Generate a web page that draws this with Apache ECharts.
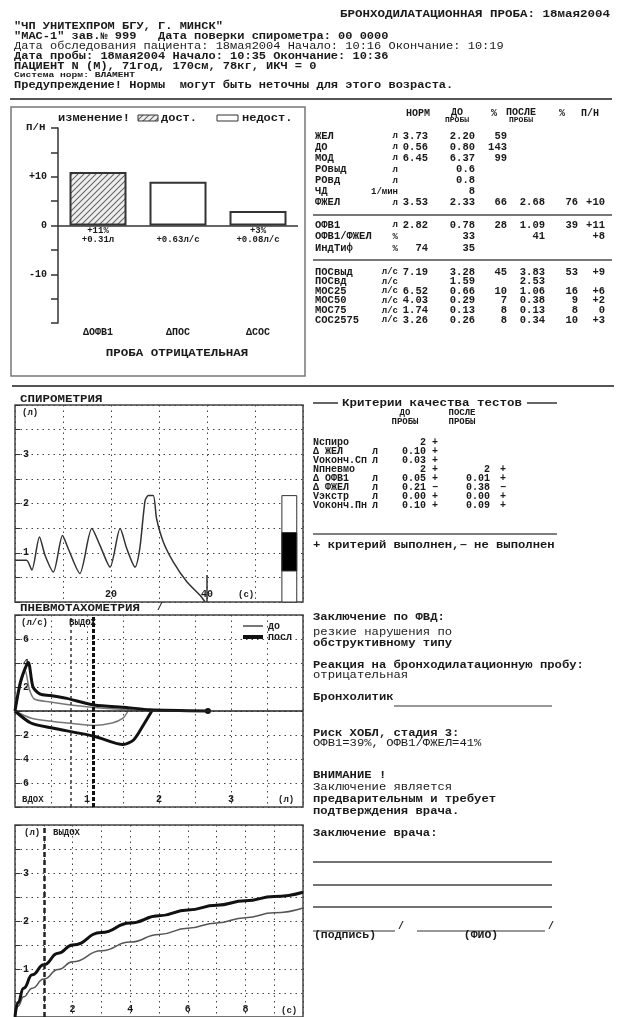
<!DOCTYPE html>
<html><head><meta charset="utf-8">
<script src="https://cdn.jsdelivr.net/npm/echarts@6/dist/echarts.min.js"></script>
<style>html,body{margin:0;padding:0;background:#fff}#c{width:617px;height:1017px}</style>
</head><body><div id="c"></div>
<script>
// ---------------- DATA ----------------
const headerTitle = 'БРОНХОДИЛАТАЦИОННАЯ ПРОБА: 18мая2004';
const headerLines = [
  '"ЧП УНИТЕХПРОМ БГУ, Г. МИНСК"',
  '"МАС-1" зав.№ 999   Дата поверки спирометра: 00 0000',
  'Дата обследования пациента: 18мая2004 Начало: 10:16 Окончание: 10:19',
  'Дата пробы: 18мая2004 Начало: 10:35 Окончание: 10:36',
  'ПАЦИЕНТ N (М), 71год, 170см, 78кг, ИКЧ = 0',
  'Система норм: ВЛАМЕНТ',
  'Предупреждение! Нормы  могут быть неточны для этого возраста.'
];

const barCategories = ['ΔОФВ1', 'ΔПОС', 'ΔСОС'];
const barValues = [11, 9, 3];
const barPercentLabels = ['+11%', ' ', '+3%'];
const barAbsLabels = ['+0.31л', '+0.63л/с', '+0.08л/с'];
const barTickLabels = { '10': '+10', '0': '0', '-10': '-10' };
const barResult = 'ПРОБА ОТРИЦАТЕЛЬНАЯ';

const tableBlock1 = [
  ['ЖЕЛ', 'л', '3.73', '2.20', '59', '', '', ''],
  ['ДО', 'л', '0.56', '0.80', '143', '', '', ''],
  ['МОД', 'л', '6.45', '6.37', '99', '', '', ''],
  ['РОвыд', 'л', '', '0.6', '', '', '', ''],
  ['РОвд', 'л', '', '0.8', '', '', '', ''],
  ['ЧД', '1/мин', '', '8', '', '', '', ''],
  ['ФЖЕЛ', 'л', '3.53', '2.33', '66', '2.68', '76', '+10']
];
const tableBlock2 = [
  ['ОФВ1', 'л', '2.82', '0.78', '28', '1.09', '39', '+11'],
  ['ОФВ1/ФЖЕЛ', '%', '', '33', '', '41', '', '+8'],
  ['ИндТиф', '%', '74', '35', '', '', '', '']
];
const tableBlock3 = [
  ['ПОСвыд', 'л/с', '7.19', '3.28', '45', '3.83', '53', '+9'],
  ['ПОСвд', 'л/с', '', '1.59', '', '2.53', '', ''],
  ['МОС25', 'л/с', '6.52', '0.66', '10', '1.06', '16', '+6'],
  ['МОС50', 'л/с', '4.03', '0.29', '7', '0.38', '9', '+2'],
  ['МОС75', 'л/с', '1.74', '0.13', '8', '0.13', '8', '0'],
  ['СОС2575', 'л/с', '3.26', '0.26', '8', '0.34', '10', '+3']
];

const spiroTime =   [0, 2.4, 3.5, 5.1, 6.25, 8.0, 9.9, 11.1, 13.5, 16.0, 17.7, 19.8, 21.9, 23.3, 25.0, 26.0, 27.1, 27.8, 28.8, 29.5, 30.9, 33.0, 35.8, 38.5, 39.6];
const spiroVolume = [0.85, 0.85, 0.65, 1.32, 0.95, 0.61, 1.35, 1.08, 0.58, 1.49, 1.15, 0.71, 1.49, 1.08, 0.71, 1.09, 2.06, 2.16, 2.16, 1.69, 1.22, 0.81, 0.41, 0.14, 0];
const spiroMarkTime = 40;
const spiroMarkHeight = 0.55;
const indicatorTime = [55.6, 58.7];
const indicatorWhite = [0, 2.16];
const indicatorBlack = [0.63, 1.41];

const fvPreExhVol  = [0, 0.07, 0.14, 0.2, 0.27, 0.49, 0.72, 1.1, 1.55, 1.9, 2.33];
const fvPreExhFlow = [0, 2.0, 3.4, 1.8, 1.0, 0.75, 0.55, 0.3, 0.12, 0.03, 0];
const fvPreInhVol  = [0, 0.23, 0.72, 1.1, 1.35, 1.5, 1.57];
const fvPreInhFlow = [0, -0.6, -1.0, -1.2, -1.0, -0.6, 0];
const fvPostExhVol  = [0, 0.08, 0.185, 0.25, 0.35, 0.49, 0.72, 1.1, 1.55, 1.87, 2.68];
const fvPostExhFlow = [0, 2.5, 4.05, 2.0, 1.4, 1.3, 1.05, 0.5, 0.3, 0.1, 0];
const fvPostInhVol  = [0, 0.22, 0.5, 1.1, 1.5, 1.65, 1.8, 1.9];
const fvPostInhFlow = [0, -1.0, -1.4, -2.1, -2.8, -2.4, -1.0, 0];
const fev1Pre = 0.78;
const fev1Post = 1.09;

const vtTime = [0, 0.1, 0.3, 0.6, 1, 1.5, 2, 3, 4, 5, 6, 7, 8, 9, 10];
const vtPre  = [0, 0.22, 0.42, 0.6, 0.79, 0.99, 1.15, 1.38, 1.56, 1.72, 1.85, 1.96, 2.07, 2.17, 2.27];
const vtPost = [0, 0.3, 0.6, 0.88, 1.09, 1.33, 1.5, 1.76, 1.96, 2.11, 2.23, 2.33, 2.42, 2.51, 2.6];
const fev1Time = 1;

const criteriaRows = [
  ['Nспиро', '', '2', '+', '', ''],
  ['Δ ЖЕЛ', 'л', '0.10', '+', '', ''],
  ['Vоконч.Сп', 'л', '0.03', '+', '', ''],
  ['Nпневмо', '', '2', '+', '2', '+'],
  ['Δ ОФВ1', 'л', '0.05', '+', '0.01', '+'],
  ['Δ ФЖЕЛ', 'л', '0.21', '−', '0.38', '−'],
  ['Vэкстр', 'л', '0.00', '+', '0.00', '+'],
  ['Vоконч.Пн', 'л', '0.10', '+', '0.09', '+']
];

const conclusionLines = [
  ['Заключение по ФВД:', 617, 'bold'],
  ['резкие нарушения по', 632, 'normal'],
  ['обструктивному типу', 643, 'bold'],
  ['Реакция на бронходилатационную пробу:', 665, 'bold'],
  ['отрицательная', 675, 'normal'],
  ['Бронхолитик', 697, 'bold'],
  ['Риск ХОБЛ, стадия 3:', 733, 'bold'],
  ['ОФВ1=39%, ОФВ1/ФЖЕЛ=41%', 743, 'normal'],
  ['ВНИМАНИЕ !', 775, 'bold'],
  ['Заключение является', 787, 'normal'],
  ['предварительным и требует', 799, 'bold'],
  ['подтверждения врача.', 811, 'bold'],
  ['Заключение врача:', 833, 'bold']
];

// ---------------- HELPERS ----------------
const FONT = '"Liberation Mono","DejaVu Sans Mono",monospace';
const INK = '#1a1a1a';
const zip = (a, b) => a.map((v, i) => [v, b[i]]);
function T(x, y, text, size = 12, align = 'left', weight = 'bold', sx = 1, fill = INK) {
  return { type: 'text', x: x, y: y, scaleX: sx, silent: true, z: 10,
    style: { text: text, font: weight + ' ' + size + 'px ' + FONT, fill: fill,
      align: align, verticalAlign: 'middle', textAlign: align, textVerticalAlign: 'middle' } };
}
function L(x1, y1, x2, y2, w = 1, color = '#333') {
  return { type: 'line', silent: true, z: 10, shape: { x1, y1, x2, y2 }, style: { stroke: color, lineWidth: w } };
}
function R(x, y, w, h, fill, stroke, lw = 1) {
  return { type: 'rect', silent: true, z: 10, shape: { x, y, width: w, height: h }, style: { fill: fill, stroke: stroke, lineWidth: lw } };
}
function hatchCanvas() {
  const c = document.createElement('canvas'); c.width = 6; c.height = 6;
  const g = c.getContext('2d');
  g.fillStyle = '#eeeeee'; g.fillRect(0, 0, 6, 6);
  g.strokeStyle = '#666'; g.lineWidth = 1.1;
  g.beginPath();
  g.moveTo(0, 6); g.lineTo(6, 0);
  g.moveTo(-1, 1); g.lineTo(1, -1);
  g.moveTo(5, 7); g.lineTo(7, 5);
  g.stroke();
  return c;
}
const hatch = { image: hatchCanvas(), repeat: 'repeat' };

// ---------------- GRAPHIC TEXT ----------------
const G = [];
G.push(T(610, 14, headerTitle, 10, 'right', 'bold', 1.25));
const hY = [26, 36, 46, 56, 66, 75, 85];
headerLines.forEach((s, i) => {
  G.push(T(14, hY[i], s, i === 5 ? 8 : 10, 'left', i === 2 ? 'normal' : 'bold', 1.2));
});
G.push(L(10, 99, 612, 99, 2, '#555'));
G.push(L(12, 386, 614, 386, 2, '#555'));

// bar chart box + legend
G.push(R(11, 107, 294, 269, null, '#777', 1.5));
G.push(T(58, 118, 'изменение!', 10, 'left', 'bold', 1.2));
G.push(R(138, 115, 20, 6, hatch, '#333', 1));
G.push(T(161, 118, 'дост.', 10, 'left', 'bold', 1.2));
G.push(R(217, 115, 21, 6, '#fff', '#333', 1));
G.push(T(242, 118, 'недост.', 10, 'left', 'bold', 1.2));
G.push(T(26, 128, 'П/Н', 9, 'left', 'bold', 1.2));
G.push(T(177, 353, barResult, 10, 'center', 'bold', 1.25));

// table header
G.push(T(418, 113, 'НОРМ', 10, 'center'));
G.push(T(457, 112, 'ДО', 10, 'center'));
G.push(T(457, 120, 'ПРОБЫ', 8, 'center'));
G.push(T(494, 113, '%', 10, 'center'));
G.push(T(521, 112, 'ПОСЛЕ', 10, 'center'));
G.push(T(521, 120, 'ПРОБЫ', 8, 'center'));
G.push(T(562, 113, '%', 10, 'center'));
G.push(T(590, 113, 'П/Н', 10, 'center'));
const colX = [428, 475, 507, 545, 578, 605];
function tableBlock(rows, y0, step) {
  rows.forEach((r, i) => {
    const y = y0 + i * step;
    G.push(T(315, y, r[0], 10, 'left', 'bold', 1.05));
    G.push(T(398, y, r[1], 9, 'right'));
    for (let k = 2; k < 8; k++) if (r[k]) G.push(T(colX[k - 2], y, r[k], 10, 'right', 'bold', 1.05));
  });
}
tableBlock(tableBlock1, 136, 11.1);
G.push(L(313, 215, 612, 215, 2, '#777'));
tableBlock(tableBlock2, 225, 11.8);
G.push(L(313, 260, 612, 260, 2, '#777'));
tableBlock(tableBlock3, 272, 9.6);

// section titles and chart labels
G.push(T(20, 399, 'СПИРОМЕТРИЯ', 10, 'left', 'bold', 1.25));
G.push(T(22, 413, '(л)', 9));
G.push(T(238, 595, '(с)', 9));
G.push(T(20, 608, 'ПНЕВМОТАХОМЕТРИЯ', 10, 'left', 'bold', 1.25));
G.push(T(157, 607, '/', 10));
G.push(T(21, 623, '(л/с)', 9));
G.push(T(69, 623, 'ВЫДОХ', 9));
G.push(T(22, 800, 'ВДОХ', 9));
G.push(T(278, 800, '(л)', 9));
G.push(T(24, 833, '(л)', 9));
G.push(T(53, 833, 'ВЫДОХ', 9));
G.push(T(281, 1011, '(с)', 9));

// criteria
G.push(L(313, 403, 338, 403, 1.5, '#333'));
G.push(T(432, 403, 'Критерии качества тестов', 10, 'center', 'bold', 1.25));
G.push(L(527, 403, 557, 403, 1.5, '#333'));
G.push(T(405, 413, 'ДО', 9, 'center'));
G.push(T(405, 422, 'ПРОБЫ', 9, 'center'));
G.push(T(462, 413, 'ПОСЛЕ', 9, 'center'));
G.push(T(462, 422, 'ПРОБЫ', 9, 'center'));
criteriaRows.forEach((r, i) => {
  const y = 442 + i * 9.05;
  G.push(T(313, y, r[0], 10));
  if (r[1]) G.push(T(372, y, r[1], 10));
  if (r[2]) G.push(T(426, y, r[2], 10, 'right'));
  if (r[3]) G.push(T(432, y, r[3], 10));
  if (r[4]) G.push(T(490, y, r[4], 10, 'right'));
  if (r[5]) G.push(T(500, y, r[5], 10));
});
G.push(L(313, 534, 557, 534, 1.5, '#555'));
G.push(T(313, 545, '+ критерий выполнен,− не выполнен', 10, 'left', 'bold', 1.22));

// conclusions
conclusionLines.forEach(c => G.push(T(313, c[1], c[0], 10, 'left', c[2], 1.22)));
G.push(L(394, 706, 552, 706, 1.2, '#333'));
[862, 885, 907].forEach(y => G.push(L(313, y, 552, y, 1.5, '#444')));
G.push(L(313, 931, 395, 931, 1.2, '#333'));
G.push(T(345, 935, '(подпись)', 10, 'center', 'bold', 1.15));
G.push(T(398, 926, '/', 10));
G.push(L(417, 931, 545, 931, 1.2, '#333'));
G.push(T(481, 935, '(ФИО)', 10, 'center', 'bold', 1.15));
G.push(T(548, 926, '/', 10));

// ---------------- CHART ----------------
const axisFont = { fontFamily: FONT, fontWeight: 'bold', fontSize: 10, color: INK };
const dotted = { show: true, lineStyle: { color: '#444', width: 1, type: [1.5, 4] } };
const box = { show: true, borderColor: '#444', borderWidth: 1.5 };
const intLabel = (lo, hi, absVal) => v => (Number.isInteger(v) && v > lo && v < hi && (!absVal || v !== 0)) ? String(absVal ? Math.abs(v) : v) : '';

const chart = echarts.init(document.getElementById('c'), null, { renderer: 'canvas' });
chart.setOption({
  animation: false,
  backgroundColor: '#fff',
  textStyle: { fontFamily: FONT },
  grid: [
    { left: 58, top: 128, width: 240, height: 195 },
    Object.assign({ left: 15, top: 405, width: 288, height: 197 }, box),
    Object.assign({ left: 15, top: 615, width: 288, height: 192 }, box),
    Object.assign({ left: 15, top: 825, width: 288, height: 195 }, box)
  ],
  legend: [
    { data: [{ name: 'до', icon: 'rect' }], left: 243, top: 621, itemWidth: 20, itemHeight: 2, selectedMode: false,
      textStyle: { fontFamily: FONT, fontWeight: 'bold', fontSize: 10, color: INK }, padding: 0 },
    { data: [{ name: 'посл', icon: 'rect' }], left: 243, top: 632, itemWidth: 20, itemHeight: 4, selectedMode: false,
      textStyle: { fontFamily: FONT, fontWeight: 'bold', fontSize: 10, color: INK }, padding: 0 }
  ],
  xAxis: [
    { gridIndex: 0, type: 'category', data: barCategories, axisLine: { show: false }, axisTick: { show: false },
      axisLabel: Object.assign({}, axisFont, { fontSize: 10, margin: 4 }), splitLine: { show: false } },
    { gridIndex: 1, type: 'value', min: 0, max: 60, interval: 10, axisLine: { show: false }, axisTick: { show: false },
      splitLine: dotted, axisLabel: Object.assign({}, axisFont, { inside: true, margin: 3, formatter: v => (v === 20 || v === 40) ? String(v) : '' }) },
    { gridIndex: 2, type: 'value', min: 0, max: 4, interval: 0.5, axisLine: { show: false }, axisTick: { show: false },
      splitLine: dotted, axisLabel: Object.assign({}, axisFont, { inside: true, margin: 3, formatter: intLabel(0, 4) }) },
    { gridIndex: 3, type: 'value', min: 0, max: 10, interval: 1, axisLine: { show: false }, axisTick: { show: false },
      splitLine: dotted, axisLabel: Object.assign({}, axisFont, { inside: true, margin: 3, formatter: v => (v % 2 === 0 && v > 0 && v < 10) ? String(v) : '' }) }
  ],
  yAxis: [
    { gridIndex: 0, type: 'value', min: -20, max: 20, interval: 5,
      axisLine: { show: true, lineStyle: { color: '#333', width: 1.5 } },
      axisTick: { show: true, length: 7, lineStyle: { color: '#333', width: 1.5 } },
      axisLabel: Object.assign({}, axisFont, { margin: 11, formatter: v => barTickLabels[String(v)] || '' }),
      splitLine: { show: false } },
    { gridIndex: 1, type: 'value', min: 0, max: 4, interval: 0.5, axisLine: { show: false },
      axisTick: { show: true, inside: true, length: 5, lineStyle: { color: '#333' } },
      axisLabel: Object.assign({}, axisFont, { inside: true, margin: 8, formatter: intLabel(0, 4) }), splitLine: dotted },
    { gridIndex: 2, type: 'value', min: -8, max: 8, interval: 2, axisLine: { show: false },
      axisTick: { show: true, inside: true, length: 5, lineStyle: { color: '#333' } },
      axisLabel: Object.assign({}, axisFont, { inside: true, margin: 8, formatter: intLabel(-8, 8, true) }), splitLine: dotted },
    { gridIndex: 3, type: 'value', min: 0, max: 4, interval: 0.5, axisLine: { show: false },
      axisTick: { show: true, inside: true, length: 5, lineStyle: { color: '#333' } },
      axisLabel: Object.assign({}, axisFont, { inside: true, margin: 8, formatter: intLabel(0, 4) }), splitLine: dotted }
  ],
  series: [
    { type: 'bar', xAxisIndex: 0, yAxisIndex: 0, barWidth: 57,
      data: barValues.map((v, i) => ({ value: v, itemStyle: { color: i === 0 ? hatch : '#fff' } })),
      itemStyle: { borderColor: '#333', borderWidth: 2 },
      label: { show: true, position: 'bottom', distance: 1, lineHeight: 9,
        fontFamily: FONT, fontWeight: 'bold', fontSize: 9, color: INK,
        formatter: p => barPercentLabels[p.dataIndex] + '\n' + barAbsLabels[p.dataIndex] },
      markLine: { silent: true, symbol: ['none', 'none'], label: { show: false },
        lineStyle: { color: '#333', width: 1.5, type: 'solid' }, data: [{ yAxis: 0 }] } },

    { type: 'line', xAxisIndex: 1, yAxisIndex: 1, data: zip(spiroTime, spiroVolume), showSymbol: false, smooth: 0.25,
      lineStyle: { color: '#333', width: 1.5 } },
    { type: 'custom', xAxisIndex: 1, yAxisIndex: 1,
      data: [[indicatorTime[0], indicatorTime[1], indicatorWhite[0], indicatorWhite[1], 0],
             [indicatorTime[0], indicatorTime[1], indicatorBlack[0], indicatorBlack[1], 1]],
      renderItem: (params, api) => {
        const p0 = api.coord([api.value(0), api.value(3)]);
        const p1 = api.coord([api.value(1), api.value(2)]);
        return { type: 'rect', shape: { x: p0[0], y: p0[1], width: p1[0] - p0[0], height: p1[1] - p0[1] },
          style: { fill: api.value(4) === 1 ? '#000' : '#fff', stroke: '#333', lineWidth: 1 } };
      } },
    { type: 'line', xAxisIndex: 1, yAxisIndex: 1, data: [[spiroMarkTime, 0], [spiroMarkTime, spiroMarkHeight]],
      showSymbol: false, lineStyle: { color: '#333', width: 1.5 } },

    { name: 'до', type: 'line', xAxisIndex: 2, yAxisIndex: 2, data: zip(fvPreExhVol, fvPreExhFlow), showSymbol: false,
      smooth: 0.25, color: '#777', itemStyle: { color: '#777' }, lineStyle: { color: '#777', width: 1.5 },
      markLine: { silent: true, symbol: ['none', 'none'], label: { show: false },
        data: [
          { yAxis: 0, lineStyle: { type: 'solid', width: 1.5, color: '#222' } },
          { xAxis: fev1Pre, lineStyle: { type: [3, 3], width: 1.5, color: '#333' } },
          { xAxis: fev1Post, lineStyle: { type: [4, 2], width: 3, color: '#111' } }
        ] } },
    { name: 'до', type: 'line', xAxisIndex: 2, yAxisIndex: 2, data: zip(fvPreInhVol, fvPreInhFlow), showSymbol: false,
      smooth: 0.25, color: '#777', itemStyle: { color: '#777' }, lineStyle: { color: '#777', width: 1.5 } },
    { name: 'посл', type: 'line', xAxisIndex: 2, yAxisIndex: 2, symbol: 'none', showSymbol: true,
      data: zip(fvPostExhVol, fvPostExhFlow).map((d, i, a) => i === a.length - 1
        ? { value: d, symbol: 'circle', symbolSize: 6, itemStyle: { color: '#111' } } : { value: d }),
      smooth: 0.25, color: '#111', itemStyle: { color: '#111' }, lineStyle: { color: '#111', width: 3 } },
    { name: 'посл', type: 'line', xAxisIndex: 2, yAxisIndex: 2, data: zip(fvPostInhVol, fvPostInhFlow), showSymbol: false,
      smooth: 0.25, color: '#111', itemStyle: { color: '#111' }, lineStyle: { color: '#111', width: 3 } },

    { type: 'line', xAxisIndex: 3, yAxisIndex: 3, data: zip(vtTime, vtPre), showSymbol: false, smooth: true,
      smoothMonotone: 'x', lineStyle: { color: '#555', width: 1.5 } },
    { type: 'line', xAxisIndex: 3, yAxisIndex: 3, data: zip(vtTime, vtPost), showSymbol: false, smooth: true,
      smoothMonotone: 'x', lineStyle: { color: '#111', width: 3 },
      markLine: { silent: true, symbol: ['none', 'none'], label: { show: false },
        data: [{ xAxis: fev1Time, lineStyle: { type: [5, 3], width: 2.5, color: '#222' } }] } }
  ],
  graphic: G
});
</script>
</body></html>
